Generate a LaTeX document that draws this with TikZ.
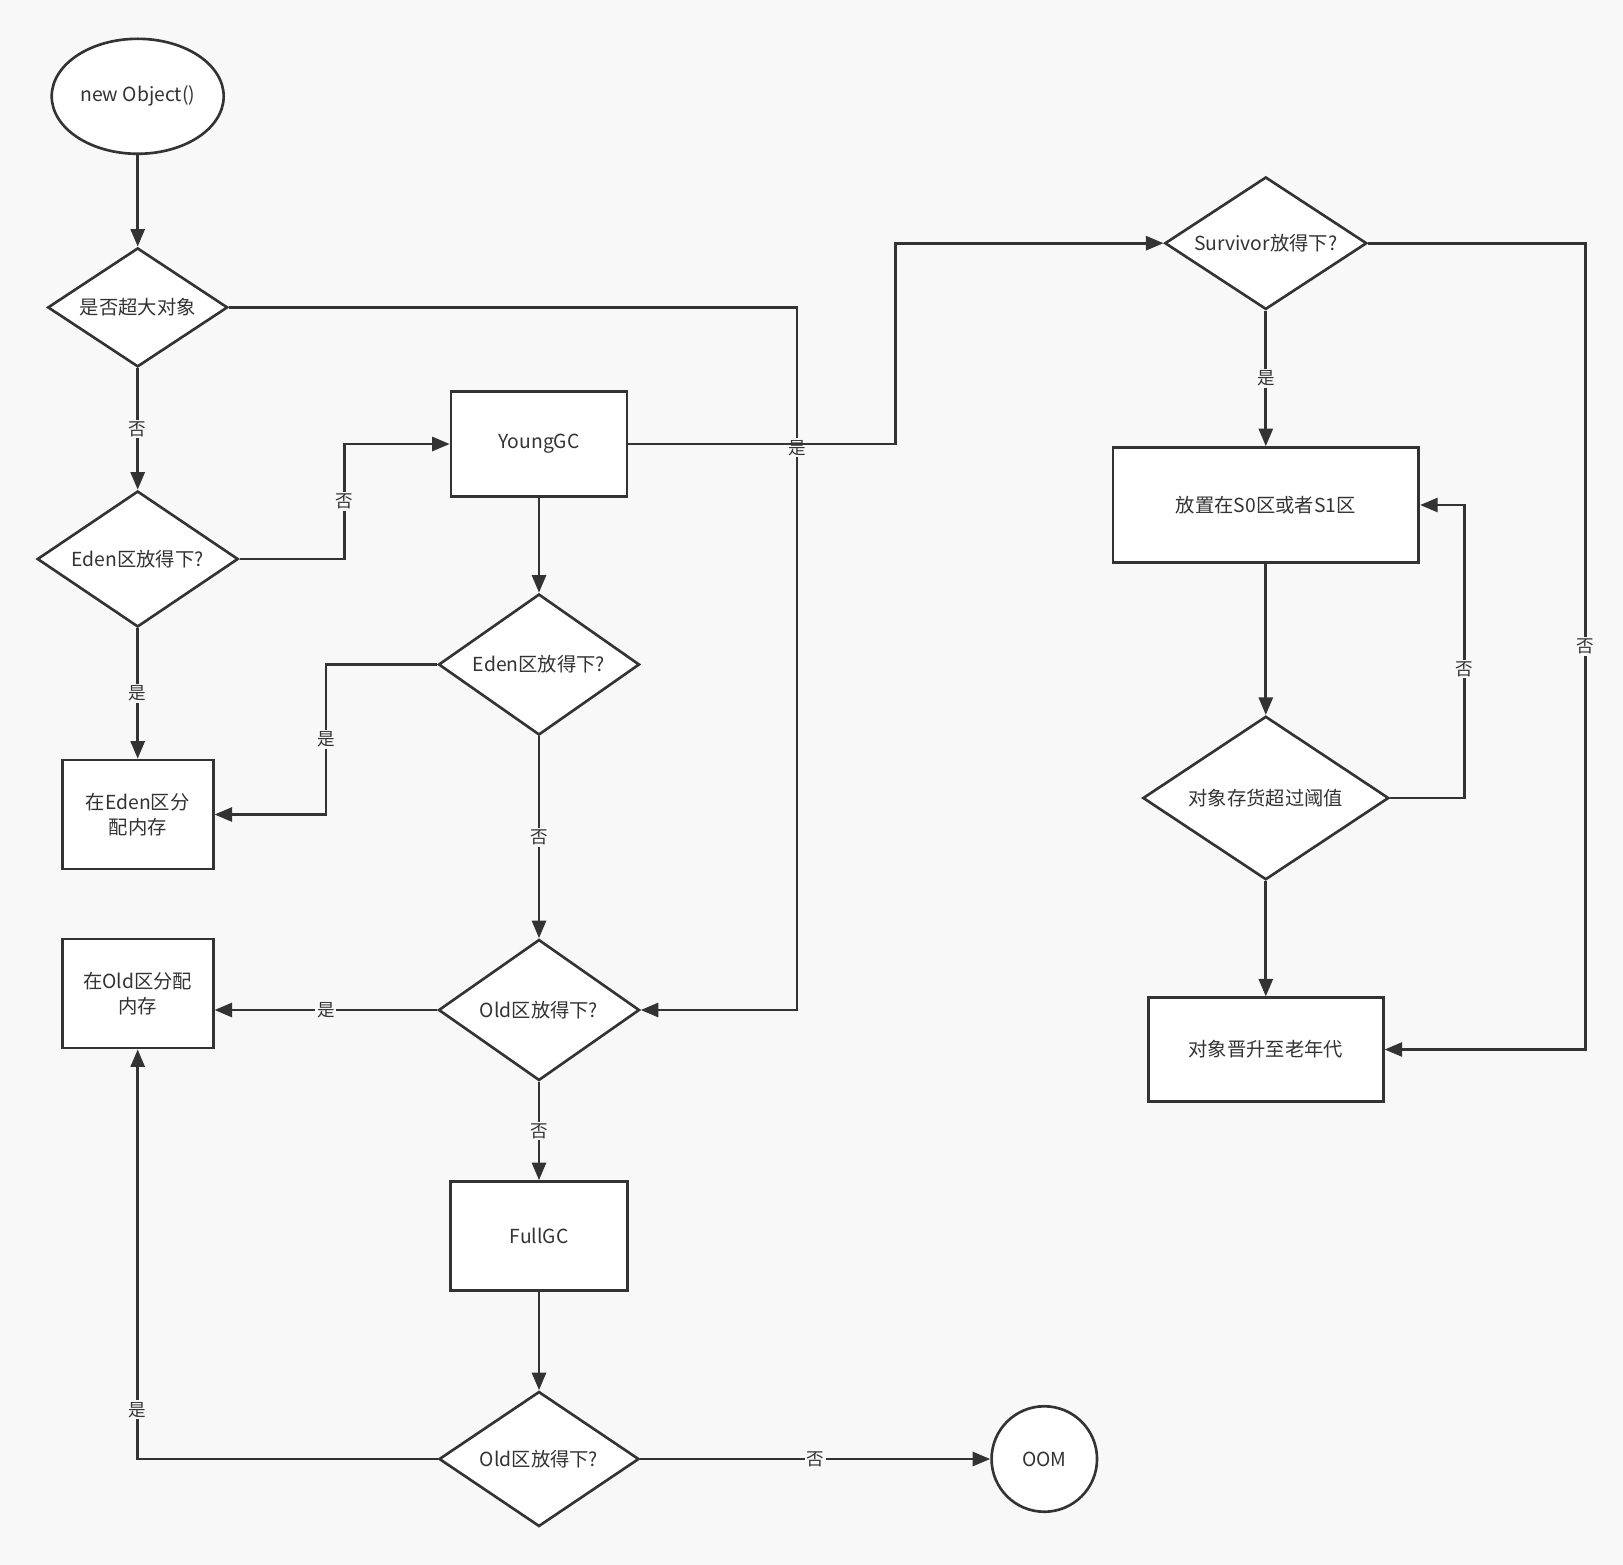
\documentclass[tikz,border=0pt]{standalone}
\usepackage{fontspec}
\setmainfont{Noto Sans CJK SC}
\usepackage{tikz}
\definecolor{inkish}{RGB}{51, 51, 51}
\definecolor{paperish}{RGB}{248, 248, 248}
\usetikzlibrary{arrows.meta, shapes.geometric}
\newcommand{\nowidth}[1]{\makebox[0pt]{#1}}
\tikzset{
  flownode/.style = {align=center, draw=inkish, fill=white, text=inkish,
    line width=1.5pt, inner sep=0pt, font=\fontsize{11}{14.5}\selectfont},
  fc_end/.style = {flownode, ellipse},% debut / fin
  fc_box/.style = {flownode, rectangle},% etape
  fc_ask/.style = {flownode, diamond},% question
  fc_lbl/.style = {fill=paperish, text=inkish, inner sep=1pt,
    font=\fontsize{10}{12}\selectfont},% oui / non
}

\begin{document}
\begin{tikzpicture}[->,>={Triangle[length=10pt,width=8pt]},
  x=0.02cm, y=-0.02cm, line width=1.5pt, color=inkish]
\fill[-, paperish] (0,0) rectangle (1623,1565);
% left column
\node [fc_end, minimum width=3.44cm, minimum height=2.3cm] (obj) at (137.7,96.3) {new Object()};
\node [fc_ask, minimum width=3.6cm, minimum height=2.38cm] (big) at (137.7,307.4) {\nowidth{是否超大对象}};
\node [fc_ask, minimum width=4.02cm, minimum height=2.72cm] (eden1) at (137.7,559) {\nowidth{Eden区放得下?}};
\node [fc_box, minimum width=3.02cm, minimum height=2.18cm] (edenbox) at (137.7,814.5) {在Eden区分\\配内存};
\node [fc_box, minimum width=3.02cm, minimum height=2.18cm] (oldbox) at (137.7,993.6) {在Old区分配\\内存};
% middle column
\node [fc_box, minimum width=3.52cm, minimum height=2.1cm] (young) at (539,444) {YoungGC};
\node [fc_ask, minimum width=4.02cm, minimum height=2.82cm] (eden2) at (539,664.5) {\nowidth{Eden区放得下?}};
\node [fc_ask, minimum width=4.02cm, minimum height=2.82cm] (old1) at (539,1010) {\nowidth{Old区放得下?}};
\node [fc_box, minimum width=3.54cm, minimum height=2.18cm] (full) at (539,1236) {FullGC};
\node [fc_ask, minimum width=4cm, minimum height=2.7cm] (old2) at (539,1459) {\nowidth{Old区放得下?}};
\node [fc_end, minimum width=2.11cm, minimum height=2.11cm] (oom) at (1044.3,1459) {OOM};
% right column
\node [fc_ask, minimum width=4.04cm, minimum height=2.65cm] (surv) at (1265.8,243.2) {\nowidth{Survivor放得下?}};
\node [fc_box, minimum width=6.12cm, minimum height=2.3cm] (s01) at (1265.8,505) {放置在S0区或者S1区};
\node [fc_ask, minimum width=4.92cm, minimum height=3.27cm] (age) at (1265.8,798) {\nowidth{对象存货超过阈值}};
\node [fc_box, minimum width=4.7cm, minimum height=2.07cm] (promote) at (1265.8,1049.5) {对象晋升至老年代};

\draw (obj) -- (big);
\draw (big) -- node[fc_lbl]{否} (eden1);
\draw (eden1.east) -- (344.7,559) |- node[fc_lbl,pos=0.25]{否} (young.west);
\draw (eden1) -- node[fc_lbl]{是} (edenbox);
\draw (young) -- (eden2);
\draw (eden2.west) -- (326,664.5) |- node[fc_lbl,pos=0.25]{是} (edenbox.east);
\draw (eden2) -- node[fc_lbl]{否} (old1);
\draw (old1.west) -- node[fc_lbl]{是} (old1.west -| oldbox.east);
\draw (old1) -- node[fc_lbl]{否} (full);
\draw (full) -- (old2);
\draw (old2) -- node[fc_lbl]{否} (oom);
\draw (old2.west) -| node[fc_lbl,pos=0.56]{是} (oldbox.south);
\draw (big.east) -| node[fc_lbl,pos=0.6]{是} (797,1010) -- (old1.east);
\draw (young.east) -- (895.3,444) |- (surv.west);
\draw (surv) -- node[fc_lbl]{是} (s01);
\draw (s01) -- (age);
\draw (age.east) -- (1464.5,798) |- node[fc_lbl,pos=0.22]{否} (s01.east);
\draw (age) -- (promote);
\draw (surv.east) -| node[fc_lbl,pos=0.75]{否} (1585.6,1049.5) -- (promote.east);
\end{tikzpicture}
\end{document}
